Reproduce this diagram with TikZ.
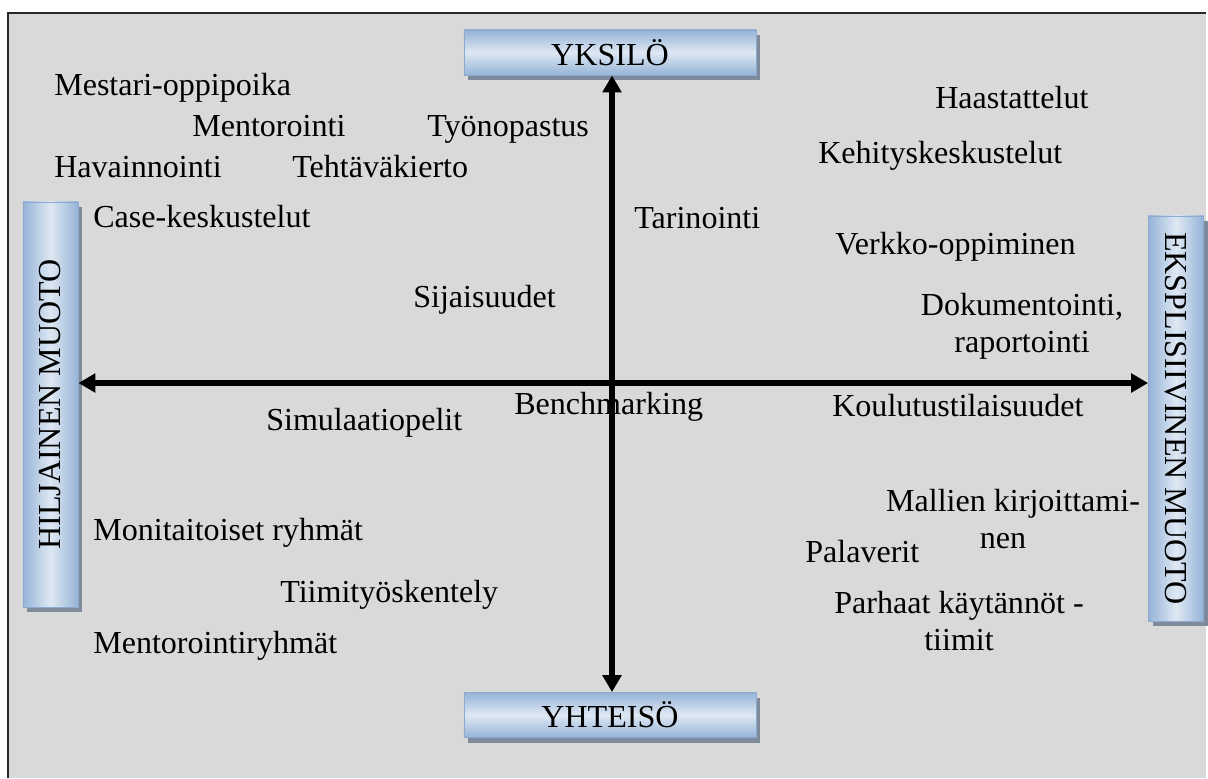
\documentclass[tikz,border=0pt]{standalone}
\usepackage{fontspec}
\setmainfont{Liberation Serif}
\usepackage{graphicx}
\usetikzlibrary{arrows.meta,shadows}
\definecolor{paper}{RGB}{217,217,217}
\definecolor{framegray}{RGB}{40,40,40}
\definecolor{boxlight}{RGB}{222,232,243}
\definecolor{boxdark}{RGB}{149,179,215}
\definecolor{boxedge}{RGB}{140,170,208}
\definecolor{boxshadow}{RGB}{127,138,155}

\begin{document}
\begin{tikzpicture}[x=0.025cm, y=-0.025cm,
        every node/.style={font=\fontsize{22.8}{26}\selectfont},
        item/.style={anchor=base west, inner sep=0pt},
        twoline/.style={anchor=base, inner sep=0pt, align=center},
        axisbox/.style={draw=boxedge, line width=0.6pt, inner sep=0pt,
            drop shadow={shadow xshift=0.1cm, shadow yshift=-0.125cm, fill=boxshadow, opacity=1}},
        hbox/.style={axisbox, minimum width=7.3cm, minimum height=1.125cm,
            top color=boxdark, bottom color=boxdark, middle color=boxlight},
        vbox/.style={axisbox, minimum width=1.375cm, minimum height=10.125cm,
            left color=boxdark, right color=boxdark, middle color=boxlight},
        axisarrow/.style={{Triangle[length=12pt,width=13pt]}-{Triangle[length=12pt,width=13pt]}, line width=3.6pt}
        ]
        \useasboundingbox (0,0) rectangle (1208,778);
        \fill[paper] (8,13) rectangle (1206,778);
        \draw[framegray, line width=1.1pt] (8,778) -- (8,13) -- (1206,13);

        \node[hbox] (yksilo) at (610,52.5) {YKSILÖ};
        \node[hbox] (yhteiso) at (610,715) {YHTEISÖ};
        \node[vbox] (hiljainen) at (50.5,404.5) {\rotatebox{90}{HILJAINEN MUOTO}};
        \node[vbox] (eksplisiit) at (1176,418.5) {\rotatebox{-90}{EKSPLISIIVINEN MUOTO}};

        % texts (base of the last line for the two-line ones)
        \node[item] (mestari) at (54,95) {Mestari-oppipoika};
        \node[item] (mentorointi) at (192,136) {Mentorointi};
        \node[item] (tyonopastus) at (427,136) {Työnopastus};
        \node[item] (havainnointi) at (54,177) {Havainnointi};
        \node[item] (kierto) at (292,177) {Tehtäväkierto};
        \node[item] (case) at (93,227) {Case-keskustelut};
        \node[item] (tarinointi) at (634,228) {Tarinointi};
        \node[item] (sijaisuudet) at (413,307) {Sijaisuudet};
        \node[item] (haastattelut) at (935,108) {Haastattelut};
        \node[item] (kehitys) at (818,163) {Kehityskeskustelut};
        \node[item] (verkko) at (835,254) {Verkko-oppiminen};
        \node[twoline] (dokumentointi) at (1022,352) {Dokumentointi,\\raportointi};
        \node[item] (simulaatio) at (266,430) {Simulaatiopelit};
        \node[item] (benchmarking) at (514,414) {Benchmarking};
        \node[item] (koulutus) at (832,416) {Koulutustilaisuudet};
        \node[twoline] (mallit) at (1013,548) {Mallien kirjoittami-\\nen\hspace*{0.5cm}};
        \node[item] (palaverit) at (805,562) {Palaverit};
        \node[twoline] (parhaat) at (959,650) {Parhaat käytännöt -\\tiimit};
        \node[item] (monitaito) at (93,540) {Monitaitoiset ryhmät};
        \node[item] (tiimi) at (280,602) {Tiimityöskentely};
        \node[item] (ryhmat) at (93,653) {Mentorointiryhmät};

        \coordinate (risti) at (612,383);
        \draw[axisarrow] (yksilo.south -| risti) -- (yhteiso.north -| risti);
        \draw[axisarrow] (hiljainen.east |- risti) -- (eksplisiit.west |- risti);
    \end{tikzpicture}
\end{document}
